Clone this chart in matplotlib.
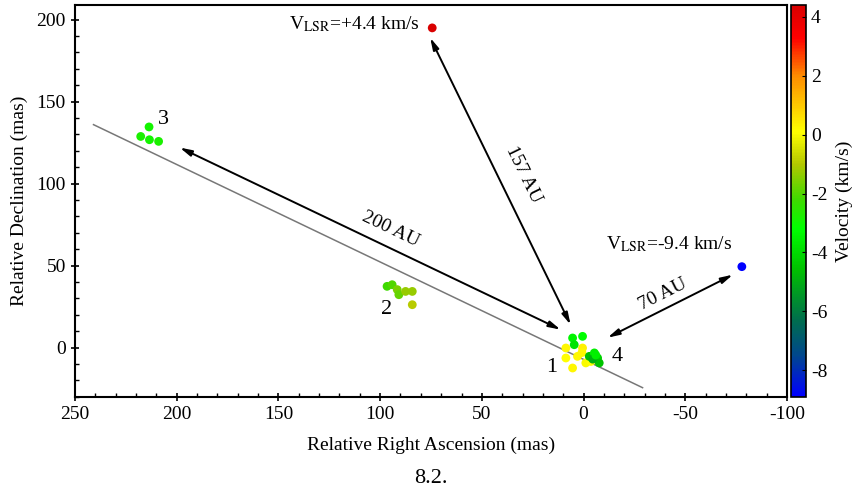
import numpy as np
import matplotlib.pyplot as plt
from matplotlib.colors import LinearSegmentedColormap, Normalize
from matplotlib.ticker import MultipleLocator

plt.rcParams["font.family"] = ["Liberation Serif", "DejaVu Serif"]
plt.rcParams["mathtext.fontset"] = "stix"
plt.rcParams["axes.unicode_minus"] = False

# maser spots: RA offset, Dec offset (mas), LSR velocity (km/s)
ra_3 = [213.6, 217.7, 213.4, 208.9]
dec_3 = [134.6, 128.8, 126.8, 125.8]
v_3 = [-2.9, -2.8, -2.9, -2.8]

ra_2 = [96.6, 94.1, 91.6, 90.8, 87.5, 84.2, 84.2]
dec_2 = [37.4, 38.4, 35.4, 32.3, 34.3, 34.3, 26.2]
v_2 = [-2.2, -2.0, -1.6, -1.8, -1.3, -1.3, -0.9]

ra_1 = [8.7, 0.5, 8.7, 3.0, 5.4, -1.1, -3.6, 0.8, 5.4, 0.5, 4.6]
dec_1 = [-0.2, -0.2, -6.3, -5.3, -12.4, -9.3, -8.4, -3.0, 5.9, 6.9, 1.8]
v_1 = [0.2, 0.3, 0.1, 0.2, 0.2, 0.0, 0.1, 0.2, -3.4, -3.2, -3.8]

ra_4 = [-2.8, -5.3, -6.9, -7.7, -4.5, -6.0]
dec_4 = [-5.3, -3.2, -6.3, -9.3, -7.0, -4.5]
v_4 = [-4.6, -3.6, -4.2, -4.5, -5.0, -3.5]

ra_red, dec_red, v_red = 74.4, 195.0, 4.4
ra_blue, dec_blue, v_blue = -77.8, 49.4, -9.4

# fitted line through the spots
line_ra = [240.9, -29.0]
line_dec = [136.0, -24.4]

# distance arrows (start ra, start dec, end ra, end dec), label, label pos, angle
arrows = [
    ((198.5, 122.0), (11.3, 11.0), "200 AU", (95.0, 72.0), -25.6),
    ((75.4, 189.0), (6.4, 14.0), "157 AU", (29.5, 105.5), -64.0),
    ((-11.8, 6.1), (-73.4, 44.5), "70 AU", (-38.9, 32.3), 26.7),
]

group_labels = ["3", "2", "1", "4"]
group_label_ra = [206.4, 97.0, 15.8, -16.7]
group_label_dec = [139.0, 23.2, -12.2, -5.5]

vmin, vmax = -8.9, 4.4
nodes = [
    (-8.9, (0.0, 0.0, 1.0)),
    (-7.5, (0.0, 0.28, 0.55)),
    (-6.3, (0.0, 0.43, 0.3)),
    (-4.6, (0.0, 0.75, 0.0)),
    (-3.2, (0.0, 1.0, 0.0)),
    (-2.2, (0.25, 0.85, 0.0)),
    (-1.0, (0.7, 0.78, 0.0)),
    (0.1, (1.0, 1.0, 0.0)),
    (2.0, (1.0, 0.55, 0.0)),
    (3.3, (1.0, 0.0, 0.0)),
    (4.4, (0.85, 0.0, 0.0)),
]
cmap = LinearSegmentedColormap.from_list(
    "vel", [((v - vmin) / (vmax - vmin), c) for v, c in nodes]
)
norm = Normalize(vmin=vmin, vmax=vmax, clip=True)

fig = plt.figure(figsize=(8.62, 4.93), dpi=100)
ax = fig.add_axes([0.087, 0.195, 0.826, 0.795])
cax = fig.add_axes([0.918, 0.195, 0.017, 0.795])

ax.plot(line_ra, line_dec, color="#777777", lw=1.1, zorder=1)

ra_all = ra_3 + ra_2 + ra_1 + ra_4 + [ra_red, ra_blue]
dec_all = dec_3 + dec_2 + dec_1 + dec_4 + [dec_red, dec_blue]
v_all = v_3 + v_2 + v_1 + v_4 + [v_red, v_blue]
sc = ax.scatter(ra_all, dec_all, c=v_all, cmap=cmap, norm=norm, s=40,
                edgecolors="none", zorder=3)

for start, end, text, pos, ang in arrows:
    ax.annotate("", xy=end, xytext=start,
                arrowprops=dict(arrowstyle="<|-|>,head_length=0.7,head_width=0.18",
                                color="black", lw=1.4, shrinkA=0, shrinkB=0))
    ax.text(pos[0], pos[1], text, rotation=ang, rotation_mode="anchor",
            ha="center", va="center", fontsize=14)

for t, x, y in zip(group_labels, group_label_ra, group_label_dec):
    ax.text(x, y, t, fontsize=16, ha="center", va="center")

ax.text(80.3, 197.0, r"V$_{\mathrm{LSR}}$=+4.4 km/s", fontsize=14,
        ha="right", va="center")
ax.text(-10.8, 63.4, r"V$_{\mathrm{LSR}}$=-9.4 km/s", fontsize=14,
        ha="left", va="center")

ax.set_xlim(250, -100)
ax.set_ylim(-30, 209)
ax.xaxis.set_major_locator(MultipleLocator(50))
ax.xaxis.set_minor_locator(MultipleLocator(10))
ax.yaxis.set_major_locator(MultipleLocator(50))
ax.yaxis.set_minor_locator(MultipleLocator(10))
ax.tick_params(which="major", direction="inout", length=6, width=1.2,
               labelsize=14, top=False, right=False)
ax.tick_params(which="minor", direction="in", length=3, width=1,
               top=False, right=False)
for s in ax.spines.values():
    s.set_linewidth(1.5)
ax.set_xlabel("Relative Right Ascension (mas)", fontsize=14, labelpad=10)
ax.set_ylabel("Relative Declination (mas)", fontsize=14, labelpad=6)

cb = fig.colorbar(sc, cax=cax)
cb.set_ticks([4, 2, 0, -2, -4, -6, -8])
cb.ax.tick_params(labelsize=14, direction="in", length=3)
cb.outline.set_linewidth(1.2)
cb.set_label("Velocity (km/s)", fontsize=14, labelpad=6)

fig.text(0.5, 0.03, "8.2.", fontsize=16, ha="center", va="center")

fig.savefig("out.png", dpi=100)
